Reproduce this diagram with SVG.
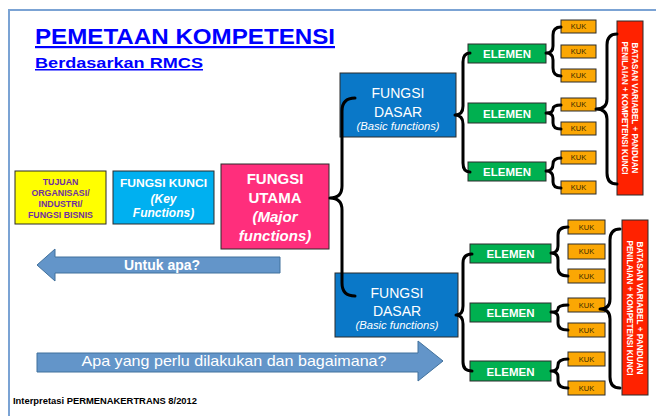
<svg xmlns="http://www.w3.org/2000/svg" width="656" height="416" viewBox="0 0 656 416">
<style>
.box{stroke:#2b2b2b;stroke-width:1}
.t{font-family:"Liberation Sans",Arial,sans-serif;text-anchor:middle}
.w{fill:#fff}
.b{font-weight:bold}
.i{font-style:italic}
.el{fill:#00b050}
.kuk{fill:#fba704}
.kt{font-family:"Liberation Sans",Arial,sans-serif;font-size:7.5px;fill:#3b2a00;text-anchor:middle}
.et{font-family:"Liberation Sans",Arial,sans-serif;font-size:11.5px;font-weight:bold;fill:#fff;text-anchor:middle}
.red{fill:#ff2200}
.rt{font-family:"Liberation Sans",Arial,sans-serif;font-size:8.5px;font-weight:bold;fill:#fff;text-anchor:middle}
.dasar{fill:#0a78c8}
.arrow{fill:#6395c9;stroke:#41719c;stroke-width:1}
.br{fill:none;stroke:#000;stroke-width:3;stroke-linecap:round;stroke-linejoin:round}
</style>
<rect width="656" height="416" fill="#fff"/>
<path d="M9,416 V10 H656" fill="none" stroke="#7ba3d4" stroke-width="2"/>

<g id="title">
<text x="35" y="44" font-family="Liberation Sans,Arial,sans-serif" font-size="22" font-weight="bold" fill="#0000ff" textLength="300" lengthAdjust="spacingAndGlyphs" text-decoration="underline">PEMETAAN KOMPETENSI</text>
<text x="35" y="68" font-family="Liberation Sans,Arial,sans-serif" font-size="15" font-weight="bold" fill="#0000ff" textLength="168" lengthAdjust="spacingAndGlyphs" text-decoration="underline">Berdasarkan RMCS</text>
</g>

<g id="tujuan">
<rect class="box" x="15" y="171" width="91" height="53" fill="#ffff00"/>
<g class="t b" font-size="8.8" fill="#7030a0">
<text x="60.5" y="184.5">TUJUAN</text>
<text x="60.5" y="195.5">ORGANISASI/</text>
<text x="60.5" y="206.5">INDUSTRI/</text>
<text x="60.5" y="218">FUNGSI BISNIS</text>
</g>
</g>

<g id="fungsi-kunci">
<rect class="box" x="113" y="171" width="101" height="53" fill="#00b0f0"/>
<text class="t w b" x="163.5" y="186.5" font-size="11.5" textLength="87" lengthAdjust="spacingAndGlyphs">FUNGSI KUNCI</text>
<text class="t w b i" x="163.5" y="203" font-size="12">(Key</text>
<text class="t w b i" x="163.5" y="216.5" font-size="12">Functions)</text>
</g>

<g id="fungsi-utama">
<rect class="box" x="221" y="164" width="108" height="85" fill="#ff2e7c"/>
<text class="t w b" x="275" y="184" font-size="15">FUNGSI</text>
<text class="t w b" x="275" y="203" font-size="15">UTAMA</text>
<text class="t w b i" x="275" y="222" font-size="15">(Major</text>
<text class="t w b i" x="275" y="240.5" font-size="15">functions)</text>
</g>

<g id="untuk-apa">
<path class="arrow" d="M37,265 L55,249 V257 H280 V273 H55 V281 Z"/>
<text class="t w b" x="162" y="270" font-size="14">Untuk apa?</text>
</g>

<g id="apa-yang-perlu">
<path class="arrow" d="M37,353 H418 V341 L443,361 L418,381 V372 H37 Z"/>
<text class="t w" x="234" y="366" font-size="15" textLength="305" lengthAdjust="spacingAndGlyphs">Apa yang perlu dilakukan dan bagaimana?</text>
</g>

<g id="fungsi-dasar-1">
<rect class="box dasar" x="340" y="73" width="116" height="64"/>
<text class="t w" x="398" y="98" font-size="14">FUNGSI</text>
<text class="t w" x="398" y="117" font-size="14">DASAR</text>
<text class="t w i" x="398" y="130" font-size="10" textLength="83" lengthAdjust="spacingAndGlyphs">(Basic functions)</text>
</g>

<g id="fungsi-dasar-2">
<rect class="box dasar" x="335" y="273" width="123" height="64"/>
<text class="t w" x="397" y="298" font-size="14">FUNGSI</text>
<text class="t w" x="397" y="316" font-size="14">DASAR</text>
<text class="t w i" x="397" y="329" font-size="10" textLength="83" lengthAdjust="spacingAndGlyphs">(Basic functions)</text>
</g>

<g id="elemen-1-1"><rect class="box el" x="468" y="44" width="78" height="19"/><text class="et" x="507" y="58">ELEMEN</text></g>
<g id="elemen-1-2"><rect class="box el" x="468" y="103" width="78" height="20"/><text class="et" x="507" y="117.5">ELEMEN</text></g>
<g id="elemen-1-3"><rect class="box el" x="468" y="162" width="78" height="19"/><text class="et" x="507" y="176">ELEMEN</text></g>
<g id="elemen-2-1"><rect class="box el" x="470" y="244" width="81" height="19"/><text class="et" x="510.5" y="258">ELEMEN</text></g>
<g id="elemen-2-2"><rect class="box el" x="470" y="303" width="81" height="19"/><text class="et" x="510.5" y="317">ELEMEN</text></g>
<g id="elemen-2-3"><rect class="box el" x="470" y="361" width="81" height="20"/><text class="et" x="510.5" y="375.5">ELEMEN</text></g>

<g id="kuk-1-1"><rect class="box kuk" x="561" y="20" width="35" height="13"/><text class="kt" x="578.5" y="29.3">KUK</text></g>
<g id="kuk-1-2"><rect class="box kuk" x="561" y="45" width="35" height="13"/><text class="kt" x="578.5" y="54.3">KUK</text></g>
<g id="kuk-1-3"><rect class="box kuk" x="561" y="69" width="35" height="13"/><text class="kt" x="578.5" y="78.3">KUK</text></g>
<g id="kuk-1-4"><rect class="box kuk" x="561" y="98" width="35" height="13"/><text class="kt" x="578.5" y="107.3">KUK</text></g>
<g id="kuk-1-5"><rect class="box kuk" x="561" y="122" width="35" height="13"/><text class="kt" x="578.5" y="131.3">KUK</text></g>
<g id="kuk-1-6"><rect class="box kuk" x="561" y="151" width="35" height="13"/><text class="kt" x="578.5" y="160.3">KUK</text></g>
<g id="kuk-1-7"><rect class="box kuk" x="561" y="181" width="35" height="13"/><text class="kt" x="578.5" y="190.3">KUK</text></g>

<g id="kuk-2-1"><rect class="box kuk" x="568" y="220" width="37" height="14"/><text class="kt" x="586.5" y="229.8">KUK</text></g>
<g id="kuk-2-2"><rect class="box kuk" x="568" y="244" width="37" height="15"/><text class="kt" x="586.5" y="254.3">KUK</text></g>
<g id="kuk-2-3"><rect class="box kuk" x="568" y="269" width="37" height="14"/><text class="kt" x="586.5" y="278.8">KUK</text></g>
<g id="kuk-2-4"><rect class="box kuk" x="568" y="298" width="37" height="14"/><text class="kt" x="586.5" y="307.8">KUK</text></g>
<g id="kuk-2-5"><rect class="box kuk" x="568" y="323" width="37" height="14"/><text class="kt" x="586.5" y="332.8">KUK</text></g>
<g id="kuk-2-6"><rect class="box kuk" x="568" y="352" width="37" height="14"/><text class="kt" x="586.5" y="361.8">KUK</text></g>
<g id="kuk-2-7"><rect class="box kuk" x="568" y="381" width="37" height="14"/><text class="kt" x="586.5" y="390.8">KUK</text></g>

<g id="batasan-1">
<rect class="box red" x="617" y="21" width="26" height="174"/>
<text class="rt" transform="translate(632,108) rotate(90)" textLength="131" lengthAdjust="spacingAndGlyphs">BATASAN VARIABEL + PANDUAN</text>
<text class="rt" transform="translate(622,108) rotate(90)" textLength="133" lengthAdjust="spacingAndGlyphs">PENILAIAN + KOMPETENSI KUNCI</text>
</g>
<g id="batasan-2">
<rect class="box red" x="622" y="220" width="26" height="175"/>
<text class="rt" transform="translate(637,308) rotate(90)" textLength="133" lengthAdjust="spacingAndGlyphs">BATASAN VARIABEL + PANDUAN</text>
<text class="rt" transform="translate(627,308) rotate(90)" textLength="135" lengthAdjust="spacingAndGlyphs">PENILAIAN + KOMPETENSI KUNCI</text>
</g>

<g id="interpretasi">
<text x="13" y="404" font-family="Liberation Sans,Arial,sans-serif" font-size="8.5" font-weight="bold" fill="#000" textLength="184" lengthAdjust="spacingAndGlyphs">Interpretasi PERMENAKERTRANS 8/2012</text>
</g>

<g id="connectors">
<path class="br" d="M355,98 Q342,98 342,111 L342,186 Q342,198 330,198 Q342,198 342,210 L342,283 Q342,296 355,296"/>
<path class="br" d="M470,53 Q463,53 463,62 L463,106 Q463,115 455,115 Q463,115 463,124 L463,163 Q463,172 470,172"/>
<path class="br" d="M561,27 Q553,27 553,35 L553,46 Q553,53 546,53 Q553,53 553,60 L553,68 Q553,76 561,76"/>
<path class="br" d="M561,105 Q553,105 553,109 Q553,113 546,113 Q553,113 553,118 L553,123 Q553,129 561,129"/>
<path class="br" d="M561,158 Q553,158 553,164 Q553,171 546,171 Q553,171 553,178 L553,182 Q553,188 561,188"/>
<path class="br" d="M617,34 Q607,34 607,45 L607,99 Q607,109 596,109 Q607,109 607,119 L607,173 Q607,184 617,184"/>
<path class="br" d="M472,254 Q463,254 463,263 L463,306 Q463,315 456,315 Q463,315 463,324 L463,362 Q463,371 472,371"/>
<path class="br" d="M568,227 Q558,227 558,235 L558,246 Q558,253 551,253 Q558,253 558,260 L558,268 Q558,276 568,276"/>
<path class="br" d="M568,305 Q558,305 558,309 Q558,312 551,312 Q558,312 558,317 L558,323 Q558,330 568,330"/>
<path class="br" d="M568,359 Q558,359 558,365 Q558,371 551,371 Q558,371 558,377 L558,381 Q558,388 568,388"/>
<path class="br" d="M620,229 Q610,229 610,240 L610,299 Q610,309 600,309 Q610,309 610,319 L610,377 Q610,388 620,388"/>
</g>
</svg>
